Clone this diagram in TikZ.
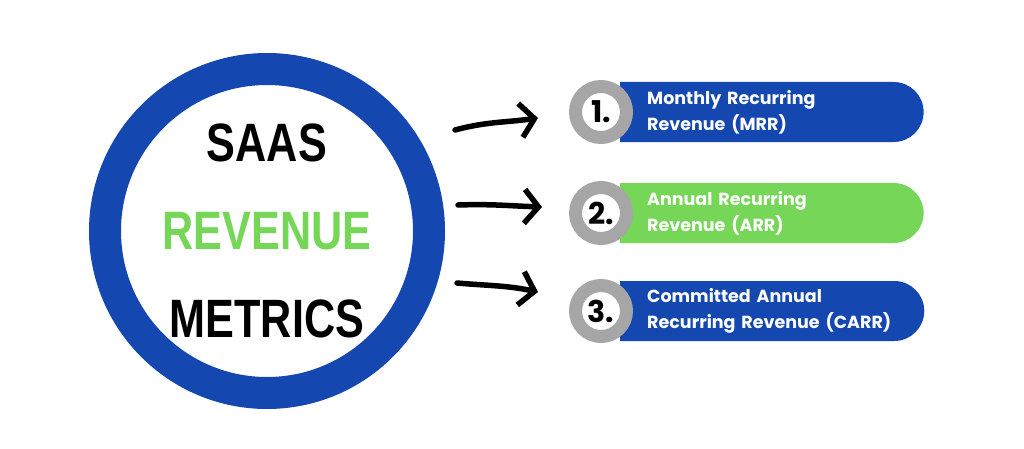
\documentclass[tikz,border=0pt]{standalone}
\usepackage{fontspec}
\setmainfont{Poppins}
\newfontfamily\headfont{Liberation Sans}
\usepackage{graphicx}
\usetikzlibrary{arrows.meta,shapes.misc,positioning}
\definecolor{saasBlue}{RGB}{21,71,176}
\definecolor{saasGreen}{RGB}{118,214,88}
\definecolor{ringGrey}{RGB}{166,166,166}

\begin{document}
\begin{tikzpicture}[x=1pt, y=1pt, ring/.style = {draw=saasBlue, circle, line width=32pt, minimum size=324pt, align=center, font=\headfont\bfseries\fontsize{54}{88}\selectfont}, pill/.style = {rounded rectangle, rounded rectangle west arc=none, fill=saasBlue, text=white, minimum height=60pt, text width=240pt, align=left, inner xsep=27pt, anchor=west, font=\bfseries\fontsize{17.5}{26}\selectfont}, num/.style = {draw=ringGrey, circle, fill=white, line width=13pt, minimum size=51pt, inner sep=0pt, font=\bfseries\fontsize{30}{30}\selectfont}, hand/.style = {line width=5.5pt, line cap=round, -{Straight Barb[length=14pt, width=34pt, line width=5.5pt]}}]
\useasboundingbox (0,0) rectangle (1024,448);

\node[ring] (metrics) at (267,217) {\scalebox{0.8}[1]{SAAS}\\ \textcolor{saasGreen}{\scalebox{0.8}[1]{REVENUE}}\\ \scalebox{0.8}[1]{METRICS}};

\node[pill] (mrr) at (620,336) {Monthly Recurring\\Revenue (MRR)};
\node[pill, fill=saasGreen] (arr) at (620,235) {Annual Recurring\\Revenue (ARR)};
\node[pill] (carr) at (620,137) {Committed Annual\\\mbox{Recurring Revenue (CARR)}};

\node[num] (numMrr) at ([xshift=-19pt]mrr.west) {1.};
\node[num] (numArr) at ([xshift=-19pt]arr.west) {2.};
\node[num] (numCarr) at ([xshift=-19pt]carr.west) {3.};

\coordinate (mrrTail) at (455,318);
\coordinate (mrrHead) at (538,330);
\coordinate (arrTail) at (458,243);
\coordinate (arrHead) at (542,241);
\coordinate (carrTail) at (457,165);
\coordinate (carrHead) at (538,156);

\draw[hand] (mrrTail) to[out=15, in=188] (mrrHead);
\draw[hand] (arrTail) to[out=2, in=178] (arrHead);
\draw[hand] (carrTail) to[out=-5, in=168] (carrHead);
\end{tikzpicture}
\end{document}
